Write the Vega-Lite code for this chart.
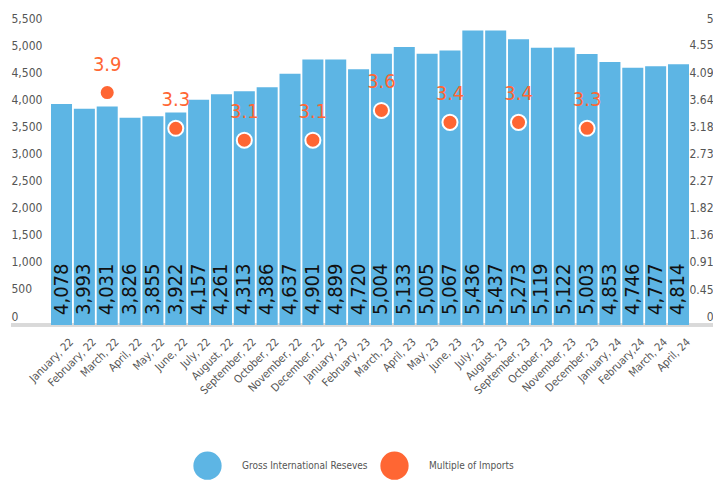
{
  "$schema": "https://vega.github.io/schema/vega-lite/v6.json",
  "width": 702,
  "height": 298,
  "autosize": {"type": "none"},
  "padding": {"left": 11, "top": 27, "right": 0, "bottom": 155},
  "background": "white",
  "config": {
    "view": {"stroke": null},
    "font": "Liberation Sans Narrow, DejaVu Sans Condensed, sans-serif",
    "axis": {"labelFont": "Liberation Sans Narrow, DejaVu Sans Condensed, sans-serif", "labelColor": "#555555", "labelFontSize": 12, "grid": false, "ticks": false, "tickSize": 0, "title": null, "zindex": 1},
    "legend": {"labelFont": "Liberation Sans Narrow, DejaVu Sans Condensed, sans-serif"}
  },
  "data": {
    "values": [
      {"month": "January, 22", "reserves": 4078, "multiple": null},
      {"month": "February, 22", "reserves": 3993, "multiple": null},
      {"month": "March, 22", "reserves": 4031, "multiple": 3.9},
      {"month": "April, 22", "reserves": 3826, "multiple": null},
      {"month": "May, 22", "reserves": 3855, "multiple": null},
      {"month": "June, 22", "reserves": 3922, "multiple": 3.3},
      {"month": "July, 22", "reserves": 4157, "multiple": null},
      {"month": "August, 22", "reserves": 4261, "multiple": null},
      {"month": "September, 22", "reserves": 4313, "multiple": 3.1},
      {"month": "October, 22", "reserves": 4386, "multiple": null},
      {"month": "November, 22", "reserves": 4637, "multiple": null},
      {"month": "December, 22", "reserves": 4901, "multiple": 3.1},
      {"month": "January, 23", "reserves": 4899, "multiple": null},
      {"month": "February, 23", "reserves": 4720, "multiple": null},
      {"month": "March, 23", "reserves": 5004, "multiple": 3.6},
      {"month": "April, 23", "reserves": 5133, "multiple": null},
      {"month": "May, 23", "reserves": 5005, "multiple": null},
      {"month": "June, 23", "reserves": 5067, "multiple": 3.4},
      {"month": "July, 23", "reserves": 5436, "multiple": null},
      {"month": "August, 23", "reserves": 5437, "multiple": null},
      {"month": "September, 23", "reserves": 5273, "multiple": 3.4},
      {"month": "October, 23", "reserves": 5119, "multiple": null},
      {"month": "November, 23", "reserves": 5122, "multiple": null},
      {"month": "December, 23", "reserves": 5003, "multiple": 3.3},
      {"month": "January, 24", "reserves": 4853, "multiple": null},
      {"month": "February,24", "reserves": 4746, "multiple": null},
      {"month": "March, 24", "reserves": 4777, "multiple": null},
      {"month": "April, 24", "reserves": 4814, "multiple": null}
    ]
  },
  "encoding": {
    "x": {
      "field": "month",
      "type": "ordinal",
      "sort": null,
      "scale": {"paddingInner": 0.08, "paddingOuter": 0, "range": [40, 678]},
      "axis": {"labelAngle": -45, "labelPadding": 11, "labelOffset": 6, "labelFontSize": 11, "domain": false}
    }
  },
  "layer": [
    {
      "encoding": {
        "y": {
          "type": "quantitative",
          "scale": {"domain": [0, 5500], "nice": false},
          "axis": {"orient": "left", "values": [0, 500, 1000, 1500, 2000, 2500, 3000, 3500, 4000, 4500, 5000, 5500], "format": ",d", "labelAlign": "left", "labelBaseline": "middle", "labelPadding": 0, "labelOffset": -9, "domain": false}
        }
      },
      "layer": [
        {
          "mark": {"type": "rule", "color": "#d9d9d9", "strokeWidth": 3},
          "encoding": {"y": {"datum": 0, "type": "quantitative"}, "x": null}
        },
        {
          "mark": {"type": "bar"},
          "encoding": {
            "y": {"field": "reserves", "type": "quantitative"},
            "color": {"datum": "Gross International Reseves", "type": "nominal", "scale": {"domain": ["Gross International Reseves", "Multiple of Imports"], "range": ["#5DB5E4", "#FF6633"]},
              "legend": {"orient": "none", "legendX": 182, "legendY": 424, "direction": "horizontal", "title": null, "symbolType": "circle", "symbolSize": 800, "symbolStrokeWidth": 0, "labelFontSize": 10, "labelColor": "#555555", "labelOffset": 20, "columnPadding": 12}}
          }
        },
        {
          "mark": {"type": "text", "angle": 270, "align": "left", "baseline": "middle", "dx": 10, "fontSize": 20, "color": "#111111"},
          "encoding": {
            "y": {"datum": 0, "type": "quantitative"},
            "text": {"field": "reserves", "type": "quantitative", "format": ","}
          }
        }
      ]
    },
    {
      "transform": [{"filter": "datum.multiple != null"}],
      "encoding": {
        "y": {
          "field": "multiple",
          "type": "quantitative",
          "scale": {"domain": [0, 5], "nice": false},
          "axis": {"orient": "right", "values": [0, 0.45, 0.91, 1.36, 1.82, 2.27, 2.73, 3.18, 3.64, 4.09, 4.55, 5], "format": ".2~f", "labelAlign": "right", "labelBaseline": "middle", "labelPadding": 0, "labelOffset": -9, "domain": false}
        }
      },
      "layer": [
        {
          "mark": {"type": "circle", "size": 227, "opacity": 1, "stroke": "white", "strokeWidth": 2},
          "encoding": {
            "color": {"datum": "Multiple of Imports", "type": "nominal"}
          }
        },
        {
          "mark": {"type": "text", "dy": -28, "fontSize": 20, "color": "#FF6633", "baseline": "middle"},
          "encoding": {
            "text": {"field": "multiple", "type": "quantitative", "format": ".1f"}
          }
        }
      ]
    }
  ],
  "resolve": {"scale": {"y": "independent"}}
}
